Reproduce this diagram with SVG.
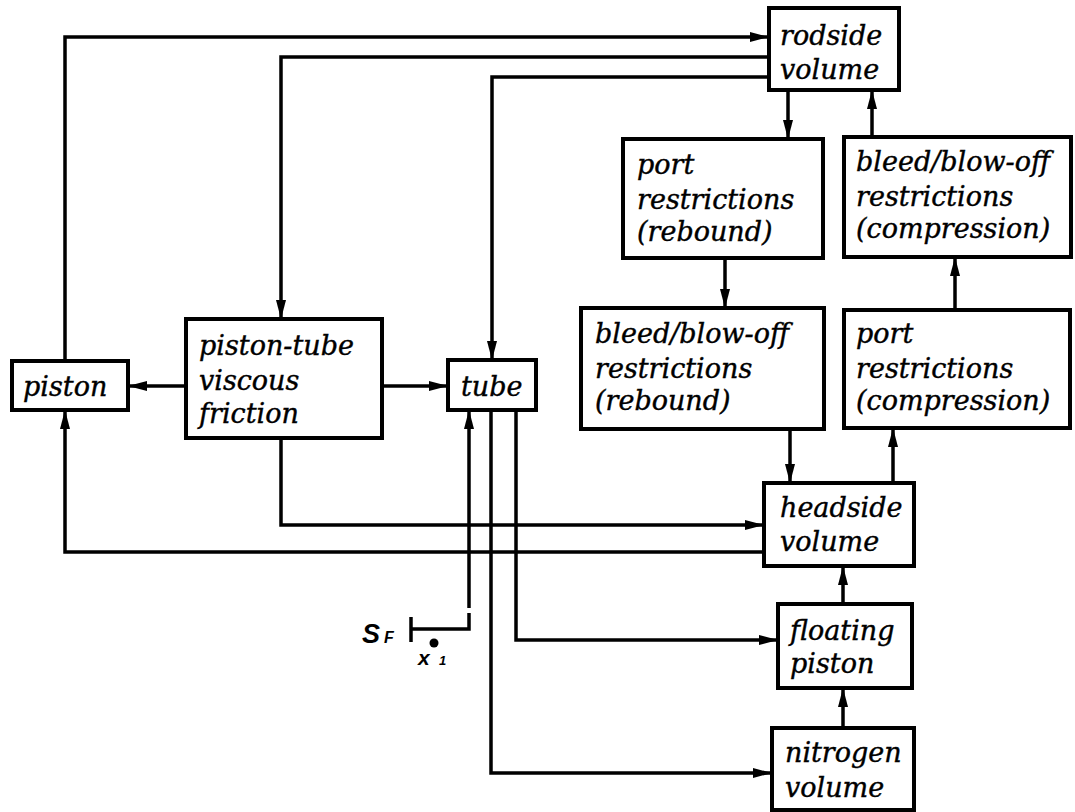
<svg xmlns="http://www.w3.org/2000/svg" width="1075" height="812" viewBox="0 0 1075 812">
<style>
.box{fill:#fff;stroke:#000;stroke-width:4}
.lbl{font-family:"DejaVu Serif","Liberation Serif",serif;font-style:italic;font-size:27px;fill:#000;stroke:#000;stroke-width:0.4}
.con{fill:none;stroke:#000;stroke-width:3.5;stroke-linejoin:miter}
.sym{font-family:"Liberation Sans",Arial,sans-serif;font-style:italic;font-weight:bold;fill:#000}
</style>
<defs>
<marker id="ah" markerUnits="userSpaceOnUse" markerWidth="22" markerHeight="12" refX="19" refY="5" orient="auto">
<path d="M0,0 L19,5 L0,10 z" fill="#000"/>
</marker>
</defs>
<rect width="1075" height="812" fill="#fff"/>
<g id="connectors">
<path class="con" d="M65,361 V37 H769" marker-end="url(#ah)"/>
<path class="con" d="M769,57 H281 V319" marker-end="url(#ah)"/>
<path class="con" d="M769,77 H492 V360" marker-end="url(#ah)"/>
<path class="con" d="M186,386 H128" marker-end="url(#ah)"/>
<path class="con" d="M382,386 H448" marker-end="url(#ah)"/>
<path class="con" d="M788,90 V139" marker-end="url(#ah)"/>
<path class="con" d="M872,137 V90" marker-end="url(#ah)"/>
<path class="con" d="M725,258 V308" marker-end="url(#ah)"/>
<path class="con" d="M955,310 V257" marker-end="url(#ah)"/>
<path class="con" d="M790,429 V483" marker-end="url(#ah)"/>
<path class="con" d="M893,483 V428" marker-end="url(#ah)"/>
<path class="con" d="M281,438 V525 H764" marker-end="url(#ah)"/>
<path class="con" d="M764,552 H65 V410" marker-end="url(#ah)"/>
<path class="con" d="M843,604 V566" marker-end="url(#ah)"/>
<path class="con" d="M843,728 V688" marker-end="url(#ah)"/>
<path class="con" d="M516,410 V640 H778" marker-end="url(#ah)"/>
<path class="con" d="M491,410 V773 H772" marker-end="url(#ah)"/>
<path class="con" d="M469,608 V410" marker-end="url(#ah)"/>
<path class="con" d="M411,629 H469 V613"/>
<path class="con" d="M411,617 V642"/>
</g>
<g id="sf-label">
<text class="sym" x="362" y="643" font-size="27">S</text>
<text class="sym" x="384" y="643" font-size="16">F</text>
<circle cx="434" cy="643" r="4.5" fill="#000"/>
<text class="sym" x="418" y="665" font-size="21">x</text>
<text class="sym" x="439" y="665" font-size="13">1</text>
</g>
<g id="piston">
<rect class="box" x="12" y="361" width="116" height="49"/>
<text class="lbl" x="23" y="396">piston</text>
</g>
<g id="friction">
<rect class="box" x="186" y="319" width="196" height="119"/>
<text class="lbl" x="199" y="355">piston-tube</text>
<text class="lbl" x="199" y="390">viscous</text>
<text class="lbl" x="199" y="423">friction</text>
</g>
<g id="tube">
<rect class="box" x="448" y="360" width="88" height="50"/>
<text class="lbl" x="461" y="396">tube</text>
</g>
<g id="rodside">
<rect class="box" x="769" y="8" width="130" height="82"/>
<text class="lbl" x="780" y="45">rodside</text>
<text class="lbl" x="780" y="79">volume</text>
</g>
<g id="port-rebound">
<rect class="box" x="623" y="139" width="200" height="119"/>
<text class="lbl" x="637" y="174">port</text>
<text class="lbl" x="637" y="209">restrictions</text>
<text class="lbl" x="637" y="241">(rebound)</text>
</g>
<g id="bleed-compression">
<rect class="box" x="844" y="137" width="227" height="120"/>
<text class="lbl" x="856" y="171">bleed/blow-off</text>
<text class="lbl" x="856" y="206">restrictions</text>
<text class="lbl" x="856" y="238">(compression)</text>
</g>
<g id="bleed-rebound">
<rect class="box" x="581" y="308" width="243" height="121"/>
<text class="lbl" x="595" y="343">bleed/blow-off</text>
<text class="lbl" x="595" y="378">restrictions</text>
<text class="lbl" x="595" y="410">(rebound)</text>
</g>
<g id="port-compression">
<rect class="box" x="844" y="310" width="226" height="118"/>
<text class="lbl" x="856" y="343">port</text>
<text class="lbl" x="856" y="378">restrictions</text>
<text class="lbl" x="856" y="410">(compression)</text>
</g>
<g id="headside">
<rect class="box" x="764" y="483" width="150" height="83"/>
<text class="lbl" x="780" y="517">headside</text>
<text class="lbl" x="780" y="551">volume</text>
</g>
<g id="floating">
<rect class="box" x="778" y="604" width="134" height="84"/>
<text class="lbl" x="790" y="640">floating</text>
<text class="lbl" x="790" y="673">piston</text>
</g>
<g id="nitrogen">
<rect class="box" x="772" y="728" width="142" height="82"/>
<text class="lbl" x="785" y="762">nitrogen</text>
<text class="lbl" x="785" y="797">volume</text>
</g>
</svg>
